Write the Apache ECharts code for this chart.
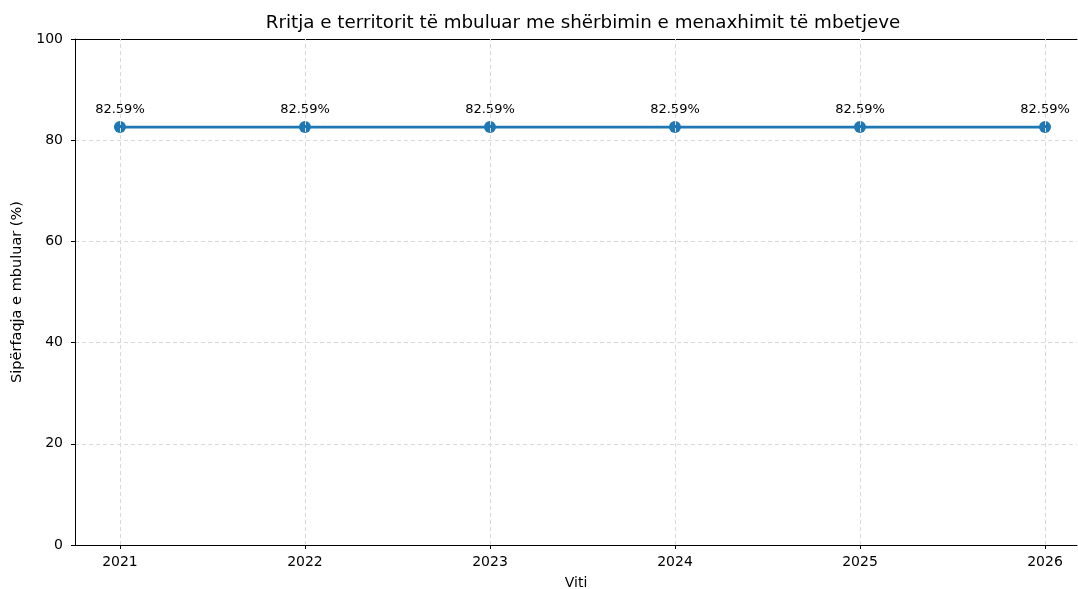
<!DOCTYPE html>
<html>
<head>
<meta charset="utf-8">
<script src="https://cdn.jsdelivr.net/npm/echarts@6/dist/echarts.min.js"></script>
<style>
html, body { margin: 0; padding: 0; background: #fff; }
#chart { width: 1078px; height: 589px; }
</style>
</head>
<body>
<div id="chart"></div>
<script>
// te dhenat
var years = [2021, 2022, 2023, 2024, 2025, 2026];
var coverage = [82.59, 82.59, 82.59, 82.59, 82.59, 82.59];
var yTicks = [0, 20, 40, 60, 80, 100];

var font = 'DejaVu Sans';
var chart = echarts.init(document.getElementById('chart'));

var points = [];
for (var i = 0; i < years.length; i++) {
    points.push([years[i], coverage[i]]);
}

var option = {
    animation: false,
    textStyle: { fontFamily: font },
    title: {
        text: 'Rritja e territorit të mbuluar me shërbimin e menaxhimit të mbetjeve',
        left: 578,
        top: 9,
        textAlign: 'center',
        textStyle: { fontFamily: font, fontSize: 18.3, fontWeight: 'normal', color: '#000' }
    },
    grid: { left: 75, right: 1, top: 39, bottom: 44, outerBoundsMode: 'none' },
    xAxis: [{
        type: 'value',
        min: 2020.757,
        max: 2026.173,
        name: 'Viti',
        nameLocation: 'middle',
        nameGap: 31,
        nameTextStyle: { fontFamily: font, fontSize: 14, color: '#000' },
        axisLine: { lineStyle: { color: '#000', width: 1 } },
        axisLabel: {
            fontFamily: font, fontSize: 14, color: '#000', margin: 10,
            customValues: years,
            formatter: function (v) { return String(Math.round(v)); }
        },
        axisTick: { show: true, customValues: years, length: 4, lineStyle: { color: '#000' } },
        splitLine: { show: false }
    }, {
        type: 'value',
        position: 'top',
        min: 2020.757,
        max: 2026.173,
        axisLine: { show: true, onZero: false, lineStyle: { color: '#000', width: 1 } },
        axisTick: { show: false },
        axisLabel: { show: false },
        splitLine: { show: false }
    }],
    yAxis: {
        type: 'value',
        min: 0,
        max: 100,
        interval: 20,
        name: 'Sipërfaqja e mbuluar (%)',
        nameLocation: 'middle',
        nameGap: 50,
        nameTextStyle: { fontFamily: font, fontSize: 14.5, color: '#000' },
        axisLine: { show: true, lineStyle: { color: '#000', width: 1 } },
        axisTick: { show: true, length: 4, lineStyle: { color: '#000' } },
        axisLabel: {
            fontFamily: font, fontSize: 14, color: '#000', margin: 12,
            customValues: yTicks
        },
        splitLine: { show: true, lineStyle: { color: '#d9d9d9', type: [4, 3], width: 1 } }
    },
    series: [{
        // vija vertikale te rrjetit ne vitet
        type: 'line',
        xAxisIndex: 0,
        data: [],
        markLine: {
            silent: true,
            symbol: 'none',
            label: { show: false },
            lineStyle: { color: '#d9d9d9', type: [4, 3], width: 1 },
            data: years.map(function (y) { return { xAxis: y }; })
        }
    }, {
        name: 'Sipërfaqja',
        type: 'line',
        xAxisIndex: 0,
        data: points,
        symbol: 'circle',
        symbolSize: 12,
        lineStyle: { color: '#1f77b4', width: 2.8 },
        itemStyle: { color: '#1f77b4', borderWidth: 0 },
        label: {
            show: true,
            position: 'top',
            distance: 5,
            fontFamily: font,
            fontSize: 13,
            color: '#000',
            formatter: function (p) { return p.value[1].toFixed(2) + '%'; }
        }
    }]
};

chart.setOption(option);
</script>
</body>
</html>
